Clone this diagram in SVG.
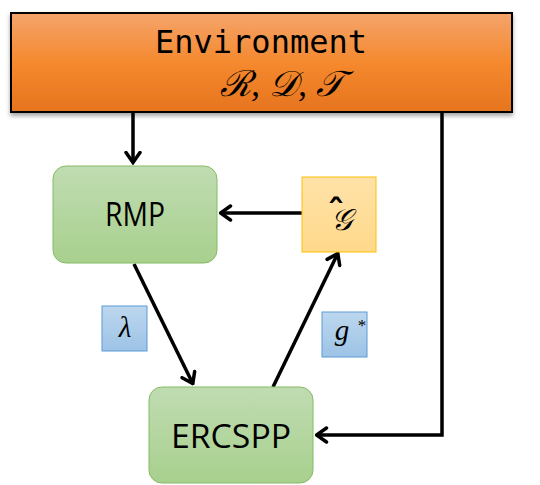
<svg xmlns="http://www.w3.org/2000/svg" width="540" height="485" viewBox="0 0 540 485">
<defs>
<linearGradient id="gOrange" x1="0" y1="0" x2="0" y2="1">
<stop offset="0" stop-color="#F4A46C"/><stop offset="0.5" stop-color="#F5892E"/><stop offset="1" stop-color="#E6741E"/>
</linearGradient>
<linearGradient id="gGreen" x1="0" y1="0" x2="0" y2="1">
<stop offset="0" stop-color="#C0DCB2"/><stop offset="1" stop-color="#A8D08D"/>
</linearGradient>
<linearGradient id="gYellow" x1="0" y1="0" x2="0" y2="1">
<stop offset="0" stop-color="#FFE2A8"/><stop offset="1" stop-color="#FFD98B"/>
</linearGradient>
<linearGradient id="gBlue" x1="0" y1="0" x2="0" y2="1">
<stop offset="0" stop-color="#BDD7EE"/><stop offset="1" stop-color="#9DC3E6"/>
</linearGradient>
<filter id="shadow" x="-5%" y="-10%" width="110%" height="130%">
<feDropShadow dx="0" dy="3" stdDeviation="2" flood-color="#000" flood-opacity="0.35"/>
</filter>
<marker id="arr" viewBox="0 0 14 18" refX="12.5" refY="9" markerWidth="14" markerHeight="18" markerUnits="userSpaceOnUse" orient="auto">
<path d="M2,2 L12,9 L2,16" fill="none" stroke="#000" stroke-width="3.5" stroke-linecap="round" stroke-linejoin="miter"/>
</marker>
</defs>
<style>
.conn{fill:none;stroke:#000;stroke-width:3.5;}
.green{fill:url(#gGreen);stroke:#86BA66;stroke-width:1;}
.blue{fill:url(#gBlue);stroke:#5B9BD5;stroke-width:1;}
.yellow{fill:url(#gYellow);stroke:#FFC000;stroke-width:1;}
.lbl{font-family:"Open Sans","Noto Sans","DejaVu Sans",sans-serif;font-size:32px;fill:#000;text-anchor:middle;}
.math{font-family:"Liberation Serif","DejaVu Serif",serif;font-style:italic;fill:#000;text-anchor:middle;}
</style>
<g id="connectors">
<line class="conn" x1="133" y1="112" x2="133" y2="163" marker-end="url(#arr)"/>
<polyline class="conn" points="442,112 442,435 316,435" marker-end="url(#arr)"/>
<line class="conn" x1="302" y1="213" x2="220" y2="213" marker-end="url(#arr)"/>
<line class="conn" x1="134" y1="264" x2="193" y2="384" marker-end="url(#arr)"/>
<line class="conn" x1="273" y1="387" x2="338" y2="253" marker-end="url(#arr)"/>
</g>
<g id="environment">
<rect x="11" y="13" width="501" height="99" fill="url(#gOrange)" stroke="#000" stroke-width="2" filter="url(#shadow)"/>
<text x="261" y="53" font-family="DejaVu Sans Mono, Liberation Mono, monospace" font-size="32" text-anchor="middle" fill="#000">Environment</text>
<text x="282" y="96" class="math" font-size="36">ℛ, 𝒟, 𝒯</text>
</g>
<g id="rmp">
<rect class="green" x="53" y="166" width="164" height="97" rx="13"/>
<text class="lbl" x="135" y="226" textLength="60" lengthAdjust="spacingAndGlyphs">RMP</text>
</g>
<g id="ghat">
<rect class="yellow" x="302" y="177" width="74" height="75"/>
<text class="math" font-size="30"><tspan x="341" y="230">𝒢</tspan><tspan x="336" y="225" font-family="DejaVu Sans, sans-serif" font-style="normal" font-weight="bold" font-size="36">ˆ</tspan></text>
</g>
<g id="ercspp">
<rect class="green" x="149" y="387" width="164" height="96" rx="13"/>
<text class="lbl" x="231" y="448" textLength="120" lengthAdjust="spacingAndGlyphs">ERCSPP</text>
</g>
<g id="lambda">
<rect class="blue" x="102" y="306" width="45" height="45"/>
<text class="math" x="125" y="337" font-size="29">λ</text>
</g>
<g id="gstar">
<rect class="blue" x="322" y="312" width="45" height="45"/>
<text class="math" font-size="29"><tspan x="342" y="340">g</tspan><tspan x="362" y="331" font-style="normal" font-size="17">*</tspan></text>
</g>
</svg>
